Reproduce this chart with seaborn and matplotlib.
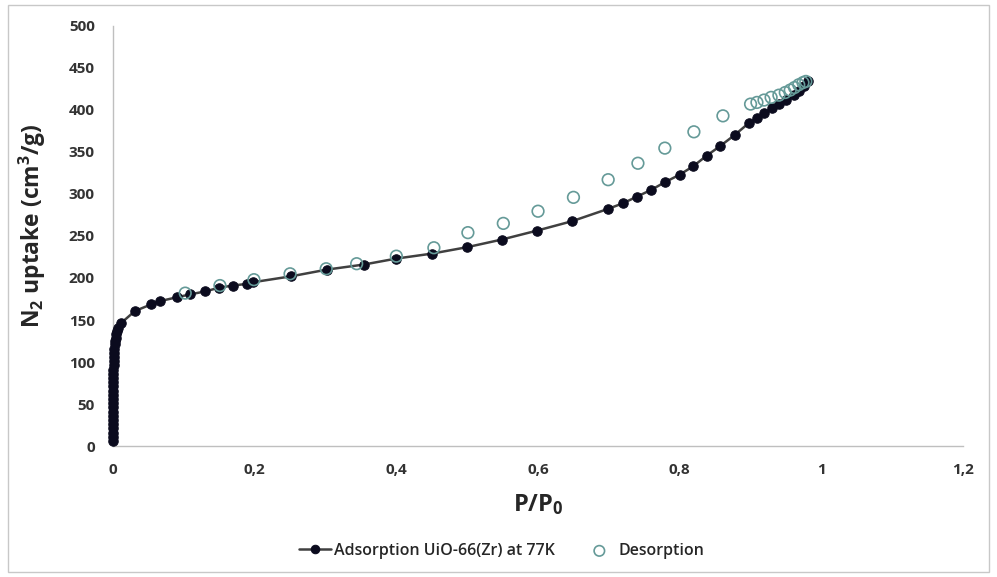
import numpy as np
import pandas as pd
import matplotlib
matplotlib.use("Agg")
import matplotlib.pyplot as plt
from matplotlib.patches import Rectangle
import seaborn as sns

# Adsorption branch (P/P0, uptake cm3/g)
ads_p = [0.0, 0.0, 0.0, 0.0, 0.0001, 0.0001, 0.0001, 0.0001, 0.0002, 0.0002,
         0.0002, 0.0003, 0.0003, 0.0004, 0.0004, 0.0005, 0.0006, 0.0007, 0.0008, 0.001,
         0.0012, 0.0015, 0.0019, 0.0024, 0.003, 0.0038, 0.0048, 0.006, 0.0075, 0.011,
         0.031, 0.054, 0.067, 0.09, 0.109, 0.13, 0.15, 0.169, 0.189, 0.198,
         0.2515, 0.302, 0.354, 0.399, 0.45, 0.5, 0.549, 0.599, 0.648, 0.699,
         0.72, 0.74, 0.76, 0.779, 0.8, 0.819, 0.838, 0.857, 0.878, 0.898,
         0.909, 0.919, 0.93, 0.94, 0.95, 0.961, 0.969, 0.976, 0.981]
ads_v = [6, 11, 16, 21, 26, 31, 36, 41, 46, 51,
         56, 61, 66, 71, 76, 81, 86, 91, 96, 101,
         106, 111, 116, 121, 125, 129, 133, 137, 141, 146,
         160.7, 168.6, 172.6, 177, 180.5, 184, 188.5, 191, 193, 195,
         202, 210, 216, 223, 229, 236.7, 245.8, 256.5, 267.6, 282.3,
         289, 297, 305, 314, 323, 333, 345.6, 357, 370.5, 384.8,
         390, 396, 402, 407, 412, 417.6, 423, 428.7, 434]

# Desorption branch
des_p = [0.102, 0.151, 0.199, 0.25, 0.301, 0.344, 0.4, 0.453, 0.501, 0.551,
         0.6, 0.65, 0.699, 0.741, 0.779, 0.82, 0.861, 0.9, 0.909, 0.919,
         0.929, 0.94, 0.949, 0.956, 0.962, 0.968, 0.974, 0.978]
des_v = [182, 191, 198, 205, 211, 217, 226, 236, 254, 265,
         279.5, 296, 317, 336.6, 354.6, 374, 393, 407, 409, 411.8,
         415, 417.6, 420.8, 423.7, 426.7, 430, 432.6, 434]

x_ticks = [0, 0.2, 0.4, 0.6, 0.8, 1.0, 1.2]
x_tick_labels = ["0", "0,2", "0,4", "0,6", "0,8", "1", "1,2"]
y_ticks = list(range(0, 501, 50))

ads = pd.DataFrame({"p": ads_p, "v": ads_v})
des = pd.DataFrame({"p": des_p, "v": des_v})

sns.set_style("white")
plt.rcParams["font.family"] = ["Open Sans", "DejaVu Sans"]
plt.rcParams["mathtext.default"] = "regular"

fig = plt.figure(figsize=(9.97, 5.77), dpi=100)
ax = fig.add_axes([0.1133, 0.227, 0.8527, 0.728])

sns.lineplot(data=ads, x="p", y="v", ax=ax, color="#404040", linewidth=1.8,
             marker="o", markersize=6.8, markerfacecolor="#0b0b1e",
             markeredgecolor="#0b0b1e", sort=False, estimator=None,
             label="Adsorption UiO-66(Zr) at 77K", clip_on=False, zorder=3)
sns.scatterplot(data=des, x="p", y="v", ax=ax, s=70, facecolor="none",
                edgecolor="#659a98", linewidth=1.2, label="Desorption",
                clip_on=False, zorder=4)

ax.set_xlim(0, 1.2)
ax.set_ylim(0, 500)
ax.set_xticks(x_ticks)
ax.set_xticklabels(x_tick_labels)
ax.set_yticks(y_ticks)

for s in ["top", "right"]:
    ax.spines[s].set_visible(False)
for s in ["left", "bottom"]:
    ax.spines[s].set_color("#bfbfbf")
    ax.spines[s].set_linewidth(1.0)

ax.tick_params(axis="y", direction="out", length=5, color="#bfbfbf",
               labelsize=11, labelcolor="#333333", pad=8)
ax.tick_params(axis="x", direction="in", length=6, color="#bfbfbf",
               labelsize=11, labelcolor="#333333", pad=12)
for lab in ax.get_xticklabels() + ax.get_yticklabels():
    lab.set_fontweight("bold")

ax.set_xlabel("P/P$_0$", fontsize=17, fontweight="bold", color="#262626")
ax.xaxis.set_label_coords(0.5, -0.11)
ax.set_ylabel("N$_2$ uptake (cm$^3$/g)", fontsize=16.5, fontweight="bold",
              color="#262626")
ax.yaxis.set_label_coords(-0.076, 0.524)

ax.legend_.remove()
handles, labels = ax.get_legend_handles_labels()
fig.legend(handles, labels, loc="center", bbox_to_anchor=(0.503, 0.045), ncol=2,
           frameon=False, prop={"size": 11.5, "weight": "semibold"}, handlelength=2.0,
           columnspacing=1.8, handletextpad=0.2, markerscale=0.9)

# light frame round the whole chart
fig.patches.append(Rectangle((0.008, 0.008), 0.984, 0.984, transform=fig.transFigure,
                             fill=False, edgecolor="#c8c8c8", linewidth=1.0))

fig.savefig("out.png", dpi=100)
